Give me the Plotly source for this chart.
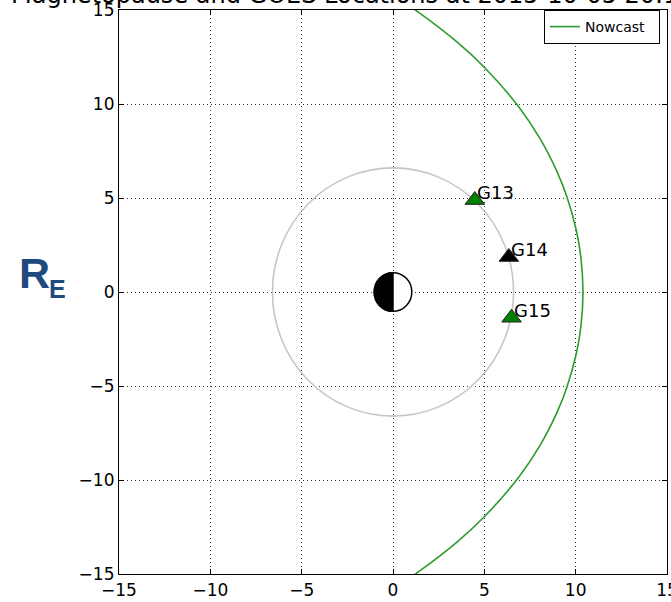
import plotly.graph_objects as go

# ---------------- data ----------------
title_text = "Magnetopause and GOES Locations at 2015-10-05 20:15 UTC"

# Magnetopause (Nowcast) boundary (R_E)
mp_x = [0.80, 1.31, 3.55, 5.05, 6.89, 8.09, 9.02, 9.52, 10.04, 10.29, 10.40,
        10.29, 10.04, 9.52, 9.02, 8.09, 6.89, 5.05, 3.55, 1.31, 0.80]
mp_y = [15.27, 14.94, 13.26, 11.90, 9.84, 8.09, 6.31, 5.06, 3.26, 1.81, 0.00,
        -1.81, -3.26, -5.06, -6.31, -8.09, -9.84, -11.90, -13.26, -14.94, -15.27]

# GOES satellites
sat_names = ["G13", "G14", "G15"]
sat_x = [4.48, 6.34, 6.49]
sat_y = [4.89, 1.86, -1.37]
sat_colors = ["#008000", "#000000", "#008000"]

geo_radius = 6.6      # geosynchronous orbit
earth_radius = 1.03   # Earth symbol

tick_vals = [-15, -10, -5, 0, 5, 10, 15]
tick_text = ["\u221215", "\u221210", "\u22125", "0", "5", "10", "15"]

# ---------------- figure ----------------
FONT = "DejaVu Sans"
L, R, T, B = 119, 4, 10, 28
W, H = 671, 602
pw, ph = W - L - R, H - T - B

fig = go.Figure()

fig.add_trace(go.Scatter(
    x=mp_x, y=mp_y, mode="lines", name="Nowcast\u00a0\u00a0",
    line=dict(color="#2e9b2e", width=1.6, shape="spline"),
    showlegend=True,
))

fig.add_trace(go.Scatter(
    x=sat_x, y=sat_y, mode="markers", showlegend=False,
    marker=dict(symbol="triangle-up", size=17, color=sat_colors,
                line=dict(color="#222222", width=1)),
))

# geosynchronous orbit circle
fig.add_shape(type="circle", xref="x", yref="y",
              x0=-geo_radius, x1=geo_radius, y0=-geo_radius, y1=geo_radius,
              line=dict(color="#c6c6c6", width=1.6), layer="between")

# Earth: white disc, left half black
r = earth_radius
k = 0.5523
fig.add_shape(type="circle", xref="x", yref="y",
              x0=-r, x1=r, y0=-r, y1=r,
              fillcolor="white", line=dict(color="black", width=1.5), layer="above")
fig.add_shape(type="path", xref="x", yref="y",
              path=(f"M 0,{-r} C {-k*r},{-r} {-r},{-k*r} {-r},0 "
                    f"C {-r},{k*r} {-k*r},{r} 0,{r} Z"),
              fillcolor="black", line=dict(color="black", width=1.5), layer="above")

annotations = []
for name, sx, sy in zip(sat_names, sat_x, sat_y):
    annotations.append(dict(
        x=sx, y=sy, xref="x", yref="y", text=name, showarrow=False,
        xanchor="left", yanchor="bottom", yshift=-5, xshift=0,
        font=dict(family=FONT, size=18, color="black"),
    ))

# R_E label
annotations.append(dict(
    x=(17 - L) / pw, y=1 - (272.5 - T) / ph, xref="paper", yref="paper",
    text="<b>R</b>", showarrow=False, xanchor="left", yanchor="middle",
    font=dict(family="Liberation Sans", size=43, color="#1f4a7e"),
))
annotations.append(dict(
    x=(47 - L) / pw, y=1 - (288.5 - T) / ph, xref="paper", yref="paper",
    text="<b>E</b>", showarrow=False, xanchor="left", yanchor="middle",
    font=dict(family="Liberation Sans", size=25, color="#1f4a7e"),
))

# title (mostly cut off at the top)
annotations.append(dict(
    x=(9 - L) / pw, y=1.0, xref="paper", yref="paper", yshift=-1,
    text=title_text, showarrow=False, xanchor="left", yanchor="bottom",
    font=dict(family=FONT, size=24, color="black"),
))

axis_common = dict(
    range=[-15, 15], tickvals=tick_vals, ticktext=tick_text,
    showgrid=True, gridcolor="#333333", gridwidth=1, griddash="1px,3px",
    zeroline=False, showline=True, linecolor="black", linewidth=1.2,
    mirror="ticks", ticks="inside", ticklen=5, tickwidth=1, tickcolor="black",
    tickfont=dict(family=FONT, size=17, color="black"),
    ticklabeloverflow="allow",
)

fig.update_layout(
    width=W, height=H,
    margin=dict(l=L, r=R, t=T, b=B, autoexpand=False),
    paper_bgcolor="white", plot_bgcolor="white",
    font=dict(family=FONT, color="black"),
    xaxis=dict(**axis_common),
    yaxis=dict(**axis_common),
    legend=dict(x=(660 - L) / pw, xanchor="right", y=1 - (10 - T) / ph, yanchor="top",
                bgcolor="white", bordercolor="black", borderwidth=1,
                font=dict(family=FONT, size=14, color="black")),
    annotations=annotations,
    showlegend=True,
)

fig.write_html("out.html",
               config={"displayModeBar": False},
               post_script="document.body.style.margin='0';document.body.style.padding='0';")
